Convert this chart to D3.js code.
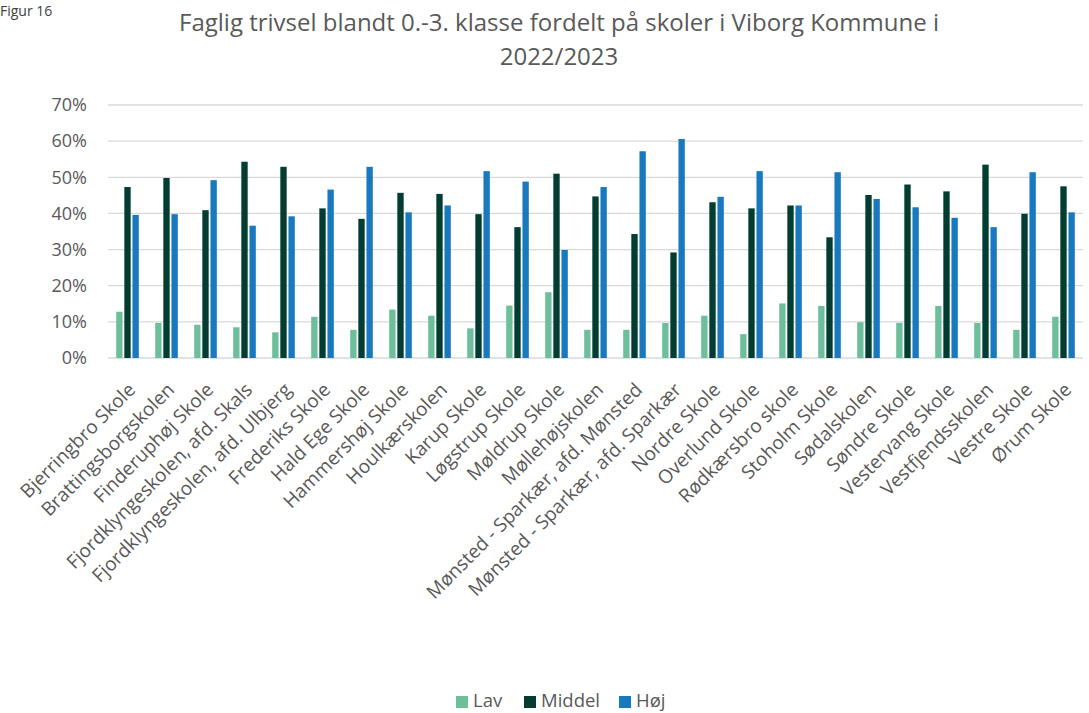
<!DOCTYPE html>
<html>
<head>
<meta charset="utf-8">
<script src="https://cdn.jsdelivr.net/npm/d3@7"></script>
<style>
  body { margin: 0; background: #fff; }
  svg text { font-family: "Open Sans", sans-serif; }
</style>
</head>
<body>
<div id="chart"></div>
<script>
// Data
var schools = ["Bjerringbro Skole", "Brattingsborgskolen", "Finderuphøj Skole",
  "Fjordklyngeskolen, afd. Skals", "Fjordklyngeskolen, afd. Ulbjerg", "Frederiks Skole",
  "Hald Ege Skole", "Hammershøj Skole", "Houlkærskolen", "Karup Skole", "Løgstrup Skole",
  "Møldrup Skole", "Møllehøjskolen", "Mønsted - Sparkær, afd. Mønsted",
  "Mønsted - Sparkær, afd. Sparkær", "Nordre Skole", "Overlund Skole", "Rødkærsbro skole",
  "Stoholm Skole", "Sødalskolen", "Søndre Skole", "Vestervang Skole", "Vestfjendsskolen",
  "Vestre Skole", "Ørum Skole"];
var lav    = [12.8, 9.7, 9.2, 8.5, 7.1, 11.4, 7.8, 13.4, 11.7, 8.2, 14.5, 18.2, 7.8, 7.8, 9.7, 11.7, 6.6, 15.1, 14.4, 9.9, 9.7, 14.4, 9.7, 7.8, 11.4];
var middel = [47.3, 49.8, 40.9, 54.3, 52.9, 41.4, 38.5, 45.7, 45.4, 39.8, 36.2, 51.0, 44.7, 34.3, 29.2, 43.1, 41.4, 42.2, 33.4, 45.1, 48.0, 46.1, 53.5, 39.9, 47.5];
var hoj    = [39.6, 39.8, 49.2, 36.6, 39.2, 46.6, 52.9, 40.3, 42.2, 51.7, 48.8, 29.9, 47.3, 57.2, 60.6, 44.6, 51.7, 42.2, 51.4, 44.0, 41.7, 38.8, 36.2, 51.4, 40.3];
var seriesNames = ["Lav", "Middel", "Høj"];
var seriesColors = ["#6dbf9b", "#033d31", "#1879bf"];
var yTicks = [0, 10, 20, 30, 40, 50, 60, 70];

var svgWidth = 1089;
var svgHeight = 713;
var margin = { top: 105, right: 6, bottom: 355, left: 108 };
var width = svgWidth - margin.left - margin.right;
var height = svgHeight - margin.top - margin.bottom;

var svg = d3.select("#chart")
  .append("svg")
  .attr("width", svgWidth)
  .attr("height", svgHeight);

// figure label + title
svg.append("text")
  .attr("x", 0).attr("y", 16)
  .attr("font-size", 14).attr("fill", "#404040")
  .text("Figur 16");

svg.append("text")
  .attr("x", 559).attr("y", 31)
  .attr("text-anchor", "middle")
  .attr("font-size", 24).attr("fill", "#595959")
  .text("Faglig trivsel blandt 0.-3. klasse fordelt på skoler i Viborg Kommune i");
svg.append("text")
  .attr("x", 559).attr("y", 65)
  .attr("text-anchor", "middle")
  .attr("font-size", 24).attr("fill", "#595959")
  .text("2022/2023");

var chartGroup = svg.append("g")
  .attr("transform", `translate(${margin.left}, ${margin.top})`);

var x0 = d3.scaleBand().domain(schools).range([0, width]).paddingInner(0.42).paddingOuter(0.21);
var x1 = d3.scaleBand().domain(seriesNames).range([0, x0.bandwidth()]).paddingInner(0.22);
var y = d3.scaleLinear().domain([0, 70]).range([height, 0]);

// gridlines
chartGroup.append("g")
  .selectAll("line")
  .data(yTicks)
  .enter()
  .append("line")
  .attr("x1", 0).attr("x2", width)
  .attr("y1", d => y(d)).attr("y2", d => y(d))
  .attr("stroke", "#d9d9d9").attr("stroke-width", 1.3);

// y axis labels
var leftAxis = d3.axisLeft(y).tickValues(yTicks).tickFormat(d => d + "%").tickSize(0).tickPadding(21);
var yAxisG = chartGroup.append("g").call(leftAxis);
yAxisG.select(".domain").remove();
yAxisG.selectAll("text").attr("font-size", 18).attr("fill", "#595959").attr("font-family", "Open Sans");

// bars
var rows = schools.map((s, i) => ({ school: s, values: [lav[i], middel[i], hoj[i]] }));
var groups = chartGroup.selectAll(".grp")
  .data(rows)
  .enter()
  .append("g")
  .attr("transform", d => `translate(${x0(d.school)}, 0)`);

groups.selectAll("rect")
  .data(d => d.values.map((v, k) => ({ key: seriesNames[k], v: v, c: seriesColors[k] })))
  .enter()
  .append("rect")
  .attr("x", d => x1(d.key))
  .attr("width", x1.bandwidth())
  .attr("y", d => y(d.v))
  .attr("height", d => height - y(d.v))
  .attr("fill", d => d.c);

// x axis labels
var bottomAxis = d3.axisBottom(x0).tickSize(0).tickPadding(0);
var xAxisG = chartGroup.append("g")
  .attr("transform", `translate(0, ${height})`)
  .call(bottomAxis);
xAxisG.select(".domain").remove();
xAxisG.selectAll("text")
  .attr("font-size", 19).attr("fill", "#595959").attr("font-family", "Open Sans")
  .attr("text-anchor", "end")
  .attr("dy", "0")
  .attr("transform", "translate(9, 33) rotate(-45)");

// legend
var legendX = [456, 524, 619];
var legend = svg.append("g");
seriesNames.forEach(function(name, k) {
  legend.append("rect")
    .attr("x", legendX[k]).attr("y", 696)
    .attr("width", 12).attr("height", 12)
    .attr("fill", seriesColors[k]);
  legend.append("text")
    .attr("x", legendX[k] + 17).attr("y", 707)
    .attr("font-size", 18.5).attr("fill", "#595959")
    .text(name);
});
</script>
</body>
</html>
